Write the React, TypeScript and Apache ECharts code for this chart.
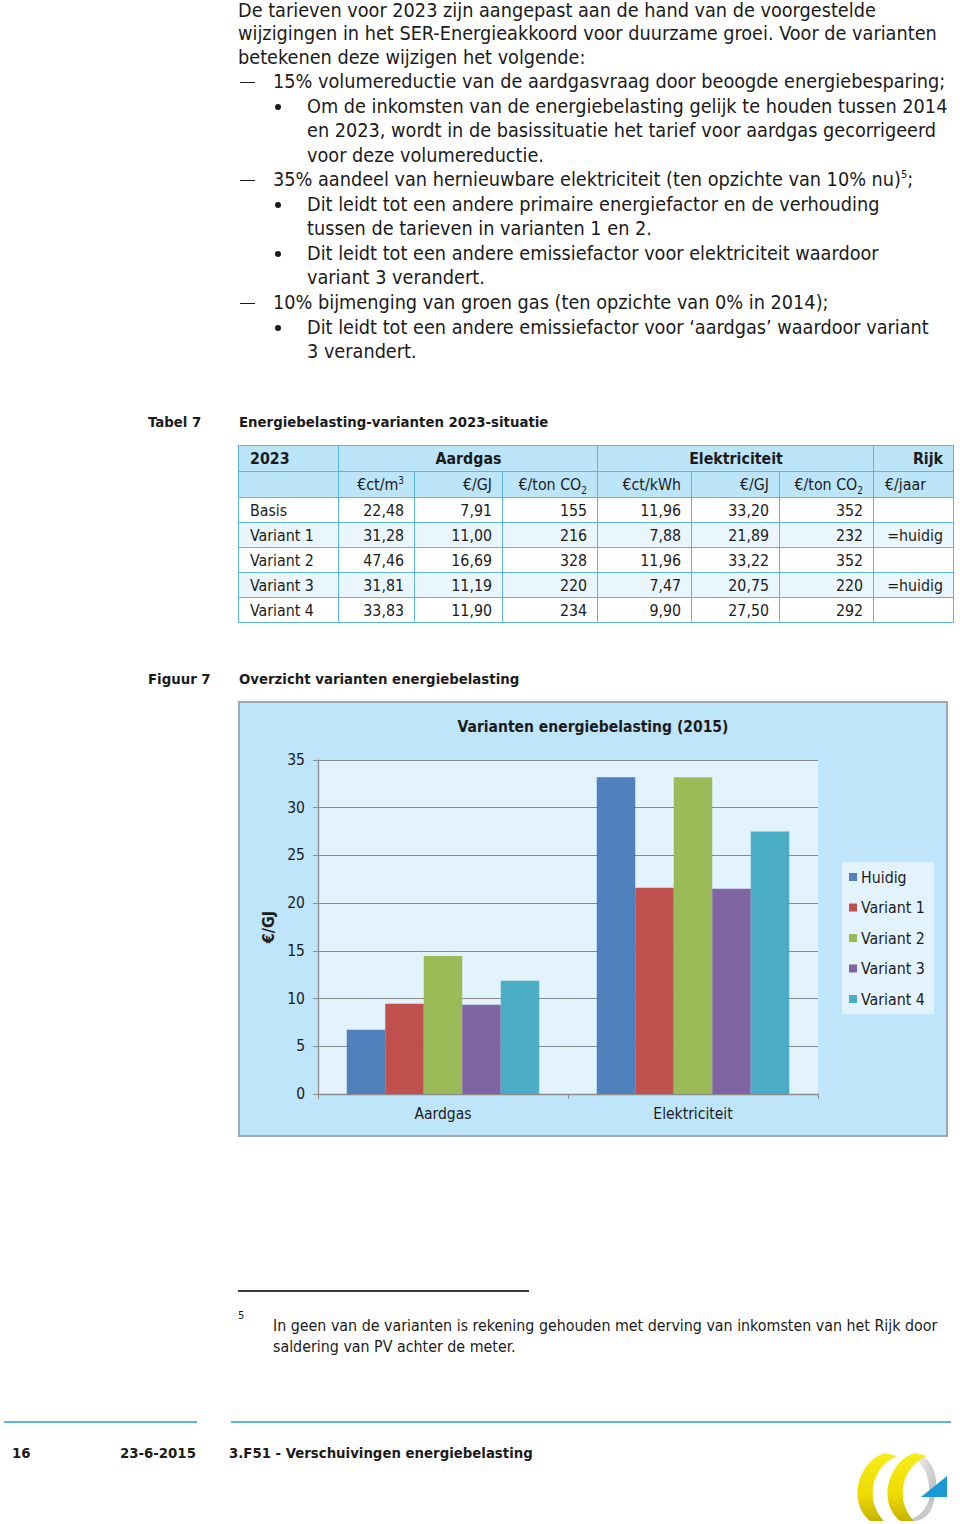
import React, { useEffect, useRef } from "react";
import * as echarts from "echarts";

const FONT = "'DejaVu Sans Condensed', 'DejaVu Sans', sans-serif";

// ---- chart data ----
const categories = ["Aardgas", "Elektriciteit"];
const seriesNames = ["Huidig", "Variant 1", "Variant 2", "Variant 3", "Variant 4"];
const huidig = [6.73, 33.2];
const variant1 = [9.45, 21.6];
const variant2 = [14.45, 33.2];
const variant3 = [9.35, 21.5];
const variant4 = [11.88, 27.5];
const seriesValues = [huidig, variant1, variant2, variant3, variant4];
const seriesColors = ["#4F81BD", "#C0504D", "#9BBB59", "#8064A2", "#4BACC6"];
const yMin = 0;
const yMax = 35;
const yInterval = 5;

// ---- table data ----
const tableRowLabels = ["Basis", "Variant 1", "Variant 2", "Variant 3", "Variant 4"];
const gasCtM3 = ["22,48", "31,28", "47,46", "31,81", "33,83"];
const gasGJ = ["7,91", "11,00", "16,69", "11,19", "11,90"];
const gasCO2 = ["155", "216", "328", "220", "234"];
const elecCtKWh = ["11,96", "7,88", "11,96", "7,47", "9,90"];
const elecGJ = ["33,20", "21,89", "33,22", "20,75", "27,50"];
const elecCO2 = ["352", "232", "352", "220", "292"];
const rijk = ["", "=huidig", "", "=huidig", ""];

type Line = { kind: "p" | "dash" | "bullet" | "cont2"; y: number; text: React.ReactNode };

const bodyLines: Line[] = [
  { kind: "p", y: 11, text: "De tarieven voor 2023 zijn aangepast aan de hand van de voorgestelde" },
  { kind: "p", y: 34, text: "wijzigingen in het SER-Energieakkoord voor duurzame groei. Voor de varianten" },
  { kind: "p", y: 58, text: "betekenen deze wijzigen het volgende:" },
  { kind: "dash", y: 82, text: "15% volumereductie van de aardgasvraag door beoogde energiebesparing;" },
  { kind: "bullet", y: 107, text: "Om de inkomsten van de energiebelasting gelijk te houden tussen 2014" },
  { kind: "cont2", y: 131, text: "en 2023, wordt in de basissituatie het tarief voor aardgas gecorrigeerd" },
  { kind: "cont2", y: 156, text: "voor deze volumereductie." },
  {
    kind: "dash",
    y: 180,
    text: (
      <>
        35% aandeel van hernieuwbare elektriciteit (ten opzichte van 10% nu)
        <sup style={{ fontSize: 11, verticalAlign: 0, position: "relative", top: -8 }}>5</sup>;
      </>
    ),
  },
  { kind: "bullet", y: 205, text: "Dit leidt tot een andere primaire energiefactor en de verhouding" },
  { kind: "cont2", y: 229, text: "tussen de tarieven in varianten 1 en 2." },
  { kind: "bullet", y: 254, text: "Dit leidt tot een andere emissiefactor voor elektriciteit waardoor" },
  { kind: "cont2", y: 278, text: "variant 3 verandert." },
  { kind: "dash", y: 303, text: "10% bijmenging van groen gas (ten opzichte van 0% in 2014);" },
  { kind: "bullet", y: 328, text: "Dit leidt tot een andere emissiefactor voor \u2018aardgas\u2019 waardoor variant" },
  { kind: "cont2", y: 352, text: "3 verandert." },
];

const TEXT = "#1b1b1b";

function BodyText() {
  return (
    <>
      {bodyLines.map((l, i) => {
        const x = l.kind === "p" ? 238 : l.kind === "dash" ? 273 : 307;
        return (
          <React.Fragment key={i}>
            {l.kind === "dash" && (
              <div style={{ position: "absolute", left: 240, top: l.y - 0.5, width: 15, height: 1.2, background: TEXT }} />
            )}
            {l.kind === "bullet" && (
              <div
                style={{
                  position: "absolute",
                  left: 275,
                  top: l.y - 3,
                  width: 6,
                  height: 6,
                  borderRadius: 3,
                  background: TEXT,
                }}
              />
            )}
            <div
              style={{
                position: "absolute",
                left: x,
                top: l.y - 11,
                height: 22,
                lineHeight: "22px",
                fontSize: 19.7,
                whiteSpace: "nowrap",
                color: TEXT,
                fontFamily: FONT,
              }}
            >
              {l.text}
            </div>
          </React.Fragment>
        );
      })}
    </>
  );
}

const colWidths = [100, 76, 88, 95, 94, 88, 94, 80];
const BORDER = "1.5px solid #5AB6E6";
const HEAD_BG = "#BDE5FA";
const ALT_BG = "#E9F6FD";

function Co2() {
  return (
    <>
      CO<sub style={{ fontSize: 10, verticalAlign: 0, position: "relative", top: 4 }}>2</sub>
    </>
  );
}

function DataTable() {
  const cell: React.CSSProperties = {
    border: BORDER,
    padding: "0 10px 0 11px",
    textAlign: "right",
    whiteSpace: "nowrap",
    overflow: "hidden",
  };
  const rows = tableRowLabels.map((lab, i) => [
    lab,
    gasCtM3[i],
    gasGJ[i],
    gasCO2[i],
    elecCtKWh[i],
    elecGJ[i],
    elecCO2[i],
    rijk[i],
  ]);
  return (
    <table
      style={{
        position: "absolute",
        left: 238,
        top: 445,
        width: colWidths.reduce((a, b) => a + b, 0),
        borderCollapse: "collapse",
        tableLayout: "fixed",
        fontFamily: FONT,
        fontSize: 15.8,
        color: TEXT,
      }}
    >
      <colgroup>
        {colWidths.map((w, i) => (
          <col key={i} style={{ width: w }} />
        ))}
      </colgroup>
      <tbody>
        <tr style={{ height: 26, background: HEAD_BG, fontWeight: "bold" }}>
          <td style={{ ...cell, textAlign: "left" }}>2023</td>
          <td style={{ ...cell, textAlign: "center" }} colSpan={3}>
            Aardgas
          </td>
          <td style={{ ...cell, textAlign: "center" }} colSpan={3}>
            Elektriciteit
          </td>
          <td style={cell}>Rijk</td>
        </tr>
        <tr style={{ height: 26, background: HEAD_BG }}>
          <td style={cell}></td>
          <td style={cell}>
            €ct/m<sup style={{ fontSize: 10, verticalAlign: 0, position: "relative", top: -6 }}>3</sup>
          </td>
          <td style={cell}>€/GJ</td>
          <td style={cell}>
            €/ton <Co2 />
          </td>
          <td style={cell}>€ct/kWh</td>
          <td style={cell}>€/GJ</td>
          <td style={cell}>
            €/ton <Co2 />
          </td>
          <td style={{ ...cell, textAlign: "left" }}>€/jaar</td>
        </tr>
        {rows.map((r, i) => (
          <tr key={i} style={{ height: 25, background: i % 2 === 1 ? ALT_BG : "#FFFFFF" }}>
            {r.map((v, j) => (
              <td key={j} style={{ ...cell, textAlign: j === 0 ? "left" : "right" }}>
                {v}
              </td>
            ))}
          </tr>
        ))}
      </tbody>
    </table>
  );
}

function Chart() {
  const ref = useRef<HTMLDivElement>(null);
  useEffect(() => {
    if (!ref.current) return;
    const chart = echarts.init(ref.current, null, { renderer: "svg" });
    chart.setOption({
      animation: false,
      backgroundColor: "#BEE5FA",
      textStyle: { fontFamily: FONT },
      title: {
        text: "Varianten energiebelasting (2015)",
        left: "center",
        top: 11,
        textStyle: { fontFamily: FONT, fontSize: 15.5, fontWeight: "bold", color: TEXT },
      },
      legend: {
        orient: "vertical",
        left: 602,
        top: 159,
        data: seriesNames,
        icon: "rect",
        itemWidth: 8,
        itemHeight: 8,
        itemGap: 14.5,
        padding: [7, 9, 7, 7],
        backgroundColor: "#E3F3FD",
        textStyle: { fontFamily: FONT, fontSize: 15.8, color: TEXT, padding: [0, 0, 0, -1], lineHeight: 16 },
      },
      grid: {
        left: 78,
        top: 57,
        width: 500,
        height: 334,
        show: true,
        backgroundColor: "#E2F3FD",
        borderWidth: 0,
      },
      xAxis: {
        type: "category",
        data: categories,
        axisLine: { lineStyle: { color: "#8C8C8C", width: 1.3 } },
        axisTick: { show: true, length: 5, lineStyle: { color: "#8C8C8C" } },
        axisLabel: { fontFamily: FONT, fontSize: 15.5, color: TEXT, margin: 12 },
      },
      yAxis: {
        type: "value",
        min: yMin,
        max: yMax,
        interval: yInterval,
        name: "€/GJ",
        nameLocation: "middle",
        nameGap: 39,
        nameRotate: 90,
        nameTextStyle: { fontFamily: FONT, fontSize: 16, fontWeight: "bold", color: TEXT },
        axisLine: { show: true, lineStyle: { color: "#8C8C8C", width: 1.3 } },
        axisTick: { show: true, length: 5, lineStyle: { color: "#8C8C8C" } },
        axisLabel: { fontFamily: FONT, fontSize: 15.5, color: TEXT, margin: 13 },
        splitLine: { show: true, lineStyle: { color: "#8A8A8A", width: 1.2 } },
      },
      series: seriesNames.map((name, i) => ({
        name,
        type: "bar",
        data: seriesValues[i],
        barGap: "0%",
        barCategoryGap: "23%",
        itemStyle: { color: seriesColors[i] },
      })),
    });
    return () => chart.dispose();
  }, []);
  return (
    <div
      style={{
        position: "absolute",
        left: 238,
        top: 701,
        width: 710,
        height: 436,
        boxSizing: "border-box",
        border: "2px solid #9AA9B3",
      }}
    >
      <div ref={ref} style={{ width: 706, height: 432 }} />
    </div>
  );
}

function Logo() {
  return (
    <svg
      style={{ position: "absolute", left: 846, top: 1448, overflow: "visible" }}
      width={110}
      height={76}
      viewBox="846 1448 110 76"
    >
      <defs>
        <linearGradient id="ylw" x1="0" y1="0" x2="0" y2="1">
          <stop offset="0" stopColor="#F7EC1C" />
          <stop offset="0.6" stopColor="#EEDC00" />
          <stop offset="1" stopColor="#C9B200" />
        </linearGradient>
        <linearGradient id="gry" x1="0" y1="0" x2="1" y2="1">
          <stop offset="0" stopColor="#F4F4F4" />
          <stop offset="1" stopColor="#B5B5B5" />
        </linearGradient>
      </defs>
      <path d="M 917 1454 C 934 1458 940 1480 934 1500 L 928 1507 C 932 1486 928 1464 911 1458 Z" fill="url(#gry)" />
      <path d="M 934 1500 C 932 1512 926 1519 916 1521 L 907 1521 C 918 1517 925 1511 928 1502 Z" fill="#C8C8C8" />
      <path d="M 885 1453 C 860 1460 846 1500 870 1521 L 884 1521 C 864 1500 872 1466 897 1456 Z" fill="url(#ylw)" />
      <path d="M 915 1453 C 890 1460 876 1500 900 1521 L 914 1521 C 894 1500 902 1466 927 1456 Z" fill="url(#ylw)" />
      <polygon points="921,1497 947,1497 947,1476" fill="#1B9AD6" />
    </svg>
  );
}

export default function App() {
  const bold: React.CSSProperties = {
    position: "absolute",
    fontFamily: FONT,
    fontWeight: "bold",
    fontSize: 14.8,
    color: TEXT,
    whiteSpace: "nowrap",
    lineHeight: "20px",
  };
  return (
    <div
      style={{
        position: "absolute",
        left: 0,
        top: 0,
        width: 960,
        height: 1524,
        background: "#FFFFFF",
        overflow: "hidden",
        fontFamily: FONT,
      }}
    >
      <BodyText />

      <div style={{ ...bold, left: 148, top: 412 }}>Tabel 7</div>
      <div style={{ ...bold, left: 239, top: 412 }}>Energiebelasting-varianten 2023-situatie</div>
      <DataTable />

      <div style={{ ...bold, left: 148, top: 669 }}>Figuur 7</div>
      <div style={{ ...bold, left: 239, top: 669 }}>Overzicht varianten energiebelasting</div>
      <Chart />

      <div style={{ position: "absolute", left: 238, top: 1290, width: 291, height: 2, background: "#3A3A3A" }} />
      <div style={{ position: "absolute", left: 238, top: 1309, fontFamily: FONT, fontSize: 11, color: TEXT }}>5</div>
      <div
        style={{
          position: "absolute",
          left: 273,
          top: 1315,
          fontFamily: FONT,
          fontSize: 15.85,
          lineHeight: "21px",
          color: TEXT,
          whiteSpace: "nowrap",
        }}
      >
        In geen van de varianten is rekening gehouden met derving van inkomsten van het Rijk door
        <br />
        saldering van PV achter de meter.
      </div>

      <div style={{ position: "absolute", left: 4, top: 1421, width: 193, height: 2, background: "#5DB7D7" }} />
      <div style={{ position: "absolute", left: 231, top: 1421, width: 720, height: 2, background: "#5DB7D7" }} />
      <div style={{ ...bold, left: 12, top: 1443 }}>16</div>
      <div style={{ ...bold, left: 120, top: 1443 }}>23-6-2015</div>
      <div style={{ ...bold, left: 229, top: 1443 }}>3.F51 - Verschuivingen energiebelasting</div>
      <Logo />
    </div>
  );
}
